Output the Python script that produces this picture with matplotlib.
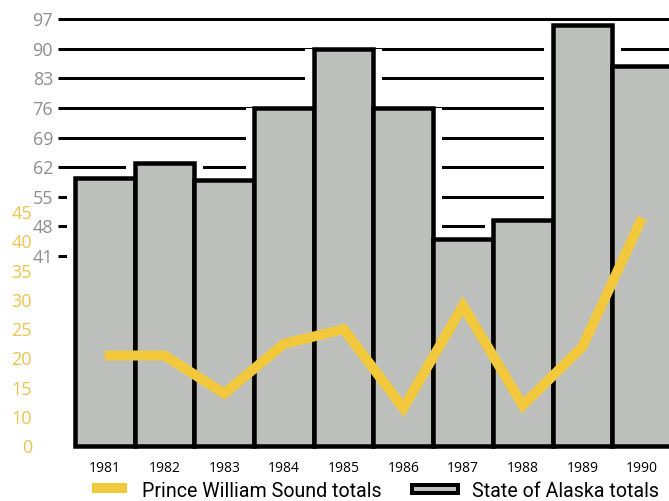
import matplotlib
matplotlib.use("Agg")
import matplotlib.pyplot as plt
from matplotlib.patches import Rectangle

# Catch totals by year
years = [1981, 1982, 1983, 1984, 1985, 1986, 1987, 1988, 1989, 1990]
alaska_totals = [59.5, 63, 59, 76, 90, 76, 45, 49.5, 95.5, 86]
pws_totals = [20.5, 20.5, 14, 22.5, 25, 11.5, 29, 12, 22, 44]

# Left-hand scales
alaska_ticks = [41, 48, 55, 62, 69, 76, 83, 90, 97]
pws_tick_values = [5, 10, 15, 20, 25, 30, 35, 40, 45]
pws_tick_labels = ["0", "10", "15", "20", "25", "30", "35", "40", "45"]

W, H, DPI = 669, 501, 100
BAR_GRAY = "#bdbfbd"
YELLOW = "#f2c93c"
YELLOW_TEXT = "#ecc44e"
GRAY_TEXT = "#8e8e8e"
px = 72.0 / DPI  # points per pixel
LEGEND_FONT = ["Roboto", "DejaVu Sans"]

fig = plt.figure(figsize=(W / DPI, H / DPI), dpi=DPI)
fig.patch.set_facecolor("white")

ax_left, ax_bottom = 58, 449
ax = fig.add_axes([ax_left / W, (H - ax_bottom) / H, (W - ax_left) / W, ax_bottom / H])
ax.set_xlim(1980.215, 1990.45)
ax.set_ylim(-4.6, 101.5)
bar_floor = -3.9

# Horizontal rules behind the bars
for v in alaska_ticks:
    ax.axhline(v, color="black", lw=3 * px, zorder=1, solid_capstyle="butt")

# White margins beside the bars break the rules
ax.bar(years, [t - bar_floor for t in alaska_totals], bottom=bar_floor,
       width=1.28, color="white", linewidth=0, zorder=2)
ax.bar(years, [t - bar_floor for t in alaska_totals], bottom=bar_floor,
       width=1.0, color=BAR_GRAY, edgecolor="black", linewidth=4.5 * px, zorder=3)

for s in ax.spines.values():
    s.set_visible(False)
ax.set_yticks(alaska_ticks)
ax.set_yticklabels([str(t) for t in alaska_ticks])
ax.tick_params(axis="y", length=0, pad=5 * px, labelsize=13, labelcolor=GRAY_TEXT)
for lbl in ax.get_yticklabels():
    lbl.set_family("Open Sans")
ax.set_xticks(years)
ax.set_xticklabels([str(y) for y in years])
ax.tick_params(axis="x", length=0, pad=12 * px, labelsize=10, labelcolor="black")
for lbl in ax.get_xticklabels():
    lbl.set_family("Open Sans")

# Prince William Sound series on its own scale
ax2 = ax.twinx()
ax2.set_ylim(4.54, 81.2)
for s in ax2.spines.values():
    s.set_visible(False)
ax2.plot(years, pws_totals, color=YELLOW, lw=10 * px, solid_joinstyle="miter",
         solid_capstyle="butt", zorder=5)
ax2.yaxis.tick_left()
ax2.set_yticks(pws_tick_values)
ax2.set_yticklabels(pws_tick_labels)
ax2.tick_params(axis="y", length=0, pad=26 * px, labelsize=13, labelcolor=YELLOW_TEXT)
for lbl in ax2.get_yticklabels():
    lbl.set_family("Open Sans")

# Legend
fig.patches.append(Rectangle((92 / W, (H - 493) / H), 35 / W, 10 / H,
                             transform=fig.transFigure, facecolor=YELLOW,
                             edgecolor="none"))
fig.text(142 / W, (H - 497) / H, "Prince William Sound totals", fontsize=14.1,
         family=LEGEND_FONT, va="baseline", ha="left")
fig.patches.append(Rectangle((412 / W, (H - 493) / H), 46 / W, 8 / H,
                             transform=fig.transFigure, facecolor=BAR_GRAY,
                             edgecolor="black", linewidth=4 * px))
fig.text(472 / W, (H - 497) / H, "State of Alaska totals", fontsize=14.1,
         family=LEGEND_FONT, va="baseline", ha="left")

fig.savefig("out.png", dpi=DPI)
